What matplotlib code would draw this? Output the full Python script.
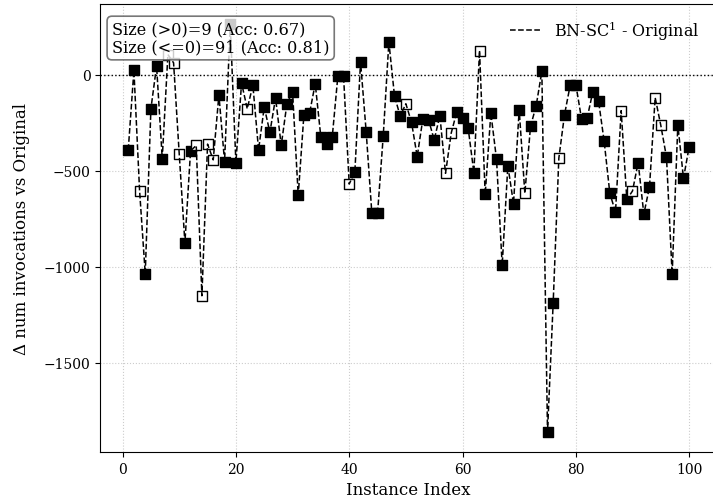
import matplotlib
matplotlib.use("Agg")
import matplotlib.pyplot as plt
import numpy as np

plt.rcParams['font.family'] = ['DejaVu Serif']
plt.rcParams['mathtext.fontset'] = 'dejavuserif'

instance_index = list(range(1, 101))
delta = [
    -392, 22, -604, -1036, -178, 44, -437, 104, 61, -414,
    -876, -397, -369, -1151, -362, -444, -106, -453, 261, -458,
    -44, -178, -56, -392, -169, -301, -122, -369, -153, -89,
    -629, -211, -202, -47, -327, -364, -327, -7, -7, -570,
    -505, 66, -300, -723, -723, -322, 169, -113, -216, -152,
    -249, -427, -230, -235, -340, -214, -514, -305, -193, -226,
    -280, -510, 125, -624, -200, -441, -993, -474, -672, -183,
    -618, -270, -162, 16, -1858, -1188, -435, -209, -56, -52,
    -230, -226, -89, -136, -348, -618, -716, -188, -650, -606,
    -458, -726, -585, -120, -265, -430, -1040, -261, -540, -376,
]
incorrect = [3, 8, 9, 10, 13, 14, 15, 16, 22, 40, 50, 57, 58, 63, 71, 77, 88, 90, 94, 95]

x = np.array(instance_index)
y = np.array(delta)
correct = np.array([i not in incorrect for i in instance_index])

W, H = 713, 502
fig = plt.figure(figsize=(W / 100, H / 100), dpi=100)
left_px, right_px, top_px, bot_px = 100.2, 717.2, 5, 453
ax = fig.add_axes([left_px / W, 1 - bot_px / H, (right_px - left_px) / W, (bot_px - top_px) / H])

ax.plot(x, y, linestyle='--', color='black', linewidth=1.1, zorder=3, label='BN-SC$^1$ - Original')
ax.scatter(x[correct], y[correct], marker='s', s=60, facecolor='black', edgecolor='black', linewidths=1.0, zorder=2)
ax.scatter(x[~correct], y[~correct], marker='s', s=60, facecolor='white', edgecolor='black', linewidths=1.0, zorder=2)
ax.axhline(0, color='black', linestyle=':', linewidth=1.0, zorder=1)

ax.grid(True, linestyle=':', color='#cccccc', linewidth=0.8)
ax.set_axisbelow(True)

ax.set_xticks([0, 20, 40, 60, 80, 100])
ax.set_yticks([0, -500, -1000, -1500])
ax.tick_params(labelsize=10)
ax.set_xlabel('Instance Index', fontsize=12)
ax.set_ylabel('Δ num invocations vs Original', fontsize=12, labelpad=10)

pos = y > 0
n_pos = int(pos.sum())
n_neg = int((~pos).sum())
acc_pos = correct[pos].mean()
acc_neg = correct[~pos].mean()
txt = f"Size (>0)={n_pos} (Acc: {acc_pos:.2f})\nSize (<=0)={n_neg} (Acc: {acc_neg:.2f})"
ax.text(0.019, 0.962, txt, transform=ax.transAxes, fontsize=11.6, va='top', ha='left',
        linespacing=1.0, zorder=5,
        bbox=dict(boxstyle='round,pad=0.3', facecolor='white', edgecolor='#555555', alpha=0.8, linewidth=1.2))

ax.legend(loc='upper right', frameon=False, fontsize=11.5, bbox_to_anchor=(0.995, 1.0))

fig.savefig('out.png', dpi=100)
